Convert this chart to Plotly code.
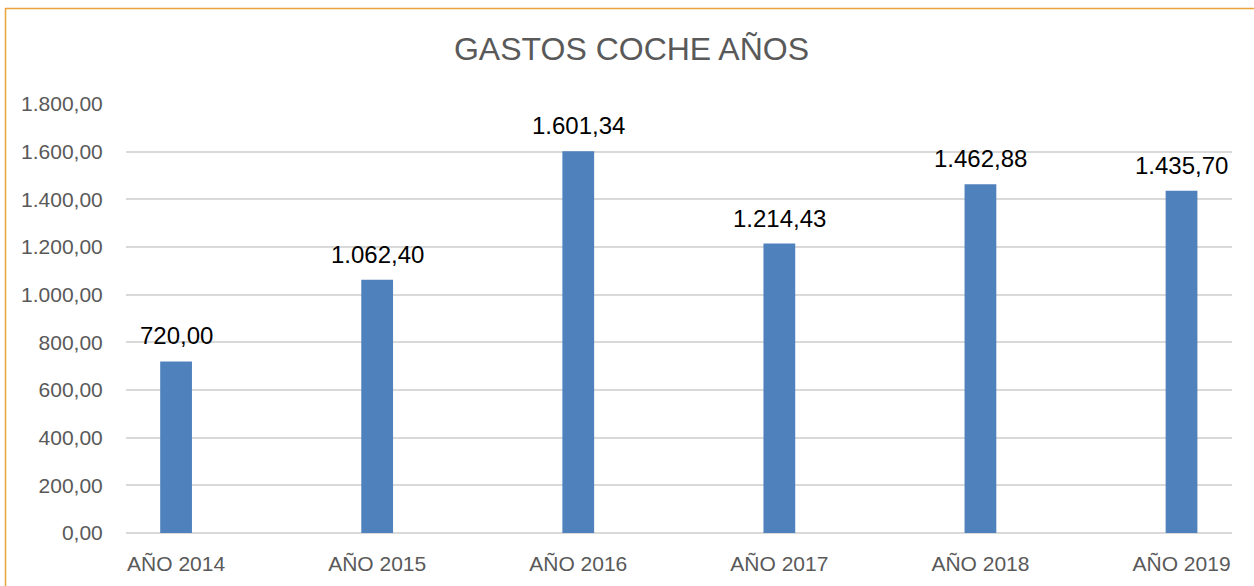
import plotly.graph_objects as go

categories = ["AÑO 2014", "AÑO 2015", "AÑO 2016", "AÑO 2017", "AÑO 2018", "AÑO 2019"]
values = [720.00, 1062.40, 1601.34, 1214.43, 1462.88, 1435.70]
y_ticks = [0, 200, 400, 600, 800, 1000, 1200, 1400, 1600, 1800]
title_text = "GASTOS COCHE AÑOS"


def es_fmt(v):
    s = f"{v:,.2f}"
    return s.replace(",", "X").replace(".", ",").replace("X", ".")


W, H = 1254, 586
L, R, T, B = 126, 22, 104, 53
pw, ph = W - L - R, H - T - B
FONT = "Liberation Sans, Arial, sans-serif"

fig = go.Figure()
fig.add_trace(go.Bar(
    x=categories, y=values,
    marker=dict(color="#4f81bd", line=dict(width=0)),
    width=0.158,
    hoverinfo="skip",
))

for c, v in zip(categories, values):
    fig.add_annotation(
        x=c, y=v, text=es_fmt(v), showarrow=False,
        yanchor="bottom", xanchor="center", yshift=10,
        font=dict(family=FONT, size=24, color="#000000"),
    )


def px_x(p):
    return (p - L) / pw


def px_y(p):
    return (H - B - p) / ph


border = "#e9a53a"
fig.add_shape(type="line", xref="paper", yref="paper",
              x0=px_x(5), x1=px_x(1300), y0=px_y(8.5), y1=px_y(8.5),
              line=dict(color=border, width=1.5))
fig.add_shape(type="line", xref="paper", yref="paper",
              x0=px_x(5.5), x1=px_x(5.5), y0=px_y(8), y1=px_y(620),
              line=dict(color=border, width=1.5))

fig.update_layout(
    width=W, height=H,
    margin=dict(l=L, r=R, t=T, b=B, pad=0),
    paper_bgcolor="white", plot_bgcolor="white",
    showlegend=False,
    title=dict(text=title_text, x=631.5 / W, xanchor="center",
               y=1 - 49 / H, yanchor="middle",
               font=dict(family=FONT, size=32, color="#595959")),
    xaxis=dict(
        type="category", range=[-0.249, 5.251],
        showgrid=False, zeroline=False, showline=False,
        ticks="outside", ticklen=12, tickcolor="rgba(0,0,0,0)",
        tickfont=dict(family=FONT, size=21, color="#595959"),
        fixedrange=True,
    ),
    yaxis=dict(
        range=[0, 1800], tickvals=y_ticks,
        ticktext=[es_fmt(v) for v in y_ticks],
        showgrid=True, gridcolor="#d9d9d9", gridwidth=1.5,
        zeroline=True, zerolinecolor="#d9d9d9", zerolinewidth=1.5,
        showline=False,
        ticks="outside", ticklen=18, tickcolor="rgba(0,0,0,0)",
        tickfont=dict(family=FONT, size=21, color="#595959"),
        fixedrange=True,
    ),
)

fig.write_html("out.html", config={"displayModeBar": False},
               post_script="document.body.style.margin='0';document.body.style.padding='0';")
